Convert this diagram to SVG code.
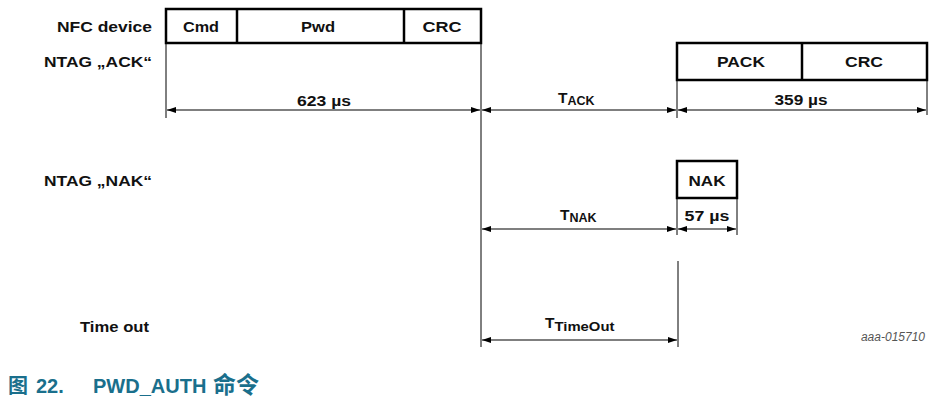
<svg xmlns="http://www.w3.org/2000/svg" width="950" height="403" viewBox="0 0 950 403">
<defs>
<marker id="ah" markerUnits="userSpaceOnUse" markerWidth="10" markerHeight="6" refX="9" refY="3" orient="auto-start-reverse">
<path d="M0,0 L9,3 L0,6 z" fill="#000"/>
</marker>
</defs>
<style>
text{font-family:"Liberation Sans",Arial,sans-serif;fill:#111;}
.lb{font-size:15.5px;font-weight:bold;}
.c{text-anchor:middle;}
.r{text-anchor:end;}
.sub{font-size:12.5px;}
.box{fill:#fff;stroke:#000;stroke-width:2.5;}
.div{stroke:#000;stroke-width:2.5;}
.ext{stroke:#000;stroke-width:1;fill:none;}
.arr{stroke:#000;stroke-width:1.2;marker-start:url(#ah);marker-end:url(#ah);}
.note{font-size:12px;font-style:italic;fill:#555;}
.cap{font-size:20px;font-weight:bold;fill:#1a6f8c;font-family:"Liberation Sans","Noto Sans CJK SC",sans-serif;}
</style>

<g id="row-labels">
<text class="lb r" x="152" y="32" textLength="95" lengthAdjust="spacingAndGlyphs">NFC device</text>
<text class="lb r" x="152" y="67" textLength="108" lengthAdjust="spacingAndGlyphs">NTAG „ACK“</text>
<text class="lb r" x="152" y="186" textLength="108" lengthAdjust="spacingAndGlyphs">NTAG „NAK“</text>
<text class="lb" x="80" y="332" textLength="69" lengthAdjust="spacingAndGlyphs">Time out</text>
</g>

<g id="nfc-frame">
<rect class="box" x="166" y="9" width="315" height="34"/>
<line class="div" x1="237" y1="9" x2="237" y2="43"/>
<line class="div" x1="404" y1="9" x2="404" y2="43"/>
<text class="lb c" x="201" y="32" textLength="36" lengthAdjust="spacingAndGlyphs">Cmd</text>
<text class="lb c" x="318" y="32" textLength="34" lengthAdjust="spacingAndGlyphs">Pwd</text>
<text class="lb c" x="442" y="32" textLength="39" lengthAdjust="spacingAndGlyphs">CRC</text>
</g>

<g id="ack-frame">
<rect class="box" x="677" y="43" width="250" height="37"/>
<line class="div" x1="802" y1="43" x2="802" y2="80"/>
<text class="lb c" x="741" y="67" textLength="48" lengthAdjust="spacingAndGlyphs">PACK</text>
<text class="lb c" x="864" y="67" textLength="38" lengthAdjust="spacingAndGlyphs">CRC</text>
</g>

<g id="nak-frame">
<rect class="box" x="677" y="161" width="60" height="37"/>
<text class="lb c" x="707" y="186" textLength="37" lengthAdjust="spacingAndGlyphs">NAK</text>
</g>

<g id="connectors">
<line class="ext" x1="166" y1="43" x2="166" y2="118"/>
<line class="ext" x1="481" y1="43" x2="481" y2="347"/>
<line class="ext" x1="677" y1="80" x2="677" y2="118"/>
<line class="ext" x1="927" y1="80" x2="927" y2="115"/>
<line class="ext" x1="677" y1="198" x2="677" y2="235"/>
<line class="ext" x1="737" y1="198" x2="737" y2="235"/>
<line class="ext" x1="678" y1="261" x2="678" y2="347"/>

<line class="arr" x1="167" y1="110" x2="480" y2="110"/>
<line class="arr" x1="482" y1="110" x2="676" y2="110"/>
<line class="arr" x1="678" y1="110" x2="926" y2="110"/>
<line class="arr" x1="482" y1="229" x2="676" y2="229"/>
<line class="arr" x1="678" y1="229" x2="736" y2="229"/>
<line class="arr" x1="482" y1="340" x2="677" y2="340"/>
</g>

<g id="dimension-labels">
<text class="lb c" x="324" y="106" textLength="54" lengthAdjust="spacingAndGlyphs">623 µs</text>
<text class="lb" x="558" y="103">T<tspan class="sub" dy="2">ACK</tspan></text>
<text class="lb c" x="801" y="105" textLength="53" lengthAdjust="spacingAndGlyphs">359 µs</text>
<text class="lb" x="560" y="220">T<tspan class="sub" dy="2">NAK</tspan></text>
<text class="lb c" x="707" y="221" textLength="45" lengthAdjust="spacingAndGlyphs">57 µs</text>
<text class="lb" x="545" y="328">T<tspan class="sub" dy="3" textLength="60" lengthAdjust="spacingAndGlyphs">TimeOut</tspan></text>
</g>

<text class="note r" x="925" y="341">aaa-015710</text>

<text class="cap" y="393"><tspan x="8">图</tspan><tspan x="36">22.</tspan><tspan x="93">PWD_AUTH</tspan><tspan x="213" font-size="23px">命令</tspan></text>
</svg>
